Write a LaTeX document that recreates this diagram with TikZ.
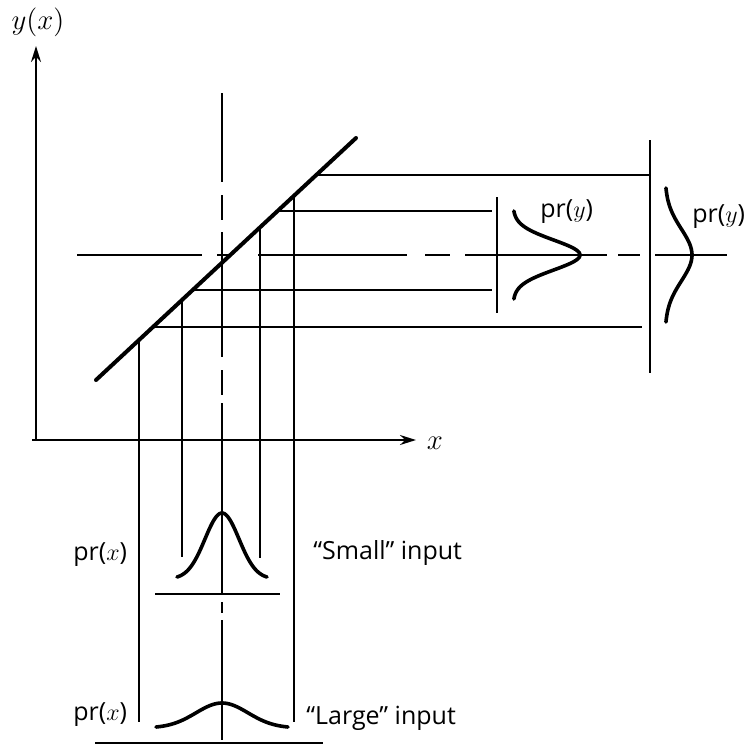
\documentclass[tikz,border=0pt]{standalone}
\usepackage{fontspec}
\setsansfont{Open Sans}
\usetikzlibrary{arrows.meta}

\begin{document}
\begin{tikzpicture}[x=0.5pt,y=-0.5pt,
  ray/.style={black, line width=0.9pt},
  axis/.style={black, line width=1pt, -{Stealth[length=8pt,width=5pt]}},
  curve/.style={black, line width=1.8pt, line cap=round},
  lab/.style={font=\sffamily\fontsize{12.5}{15}\selectfont, inner sep=0pt, anchor=west},
  mlab/.style={font=\fontsize{14}{16}\selectfont, inner sep=0pt}]
\useasboundingbox (0,0) rectangle (752,752);
\coordinate (o) at (36,440);
\coordinate (d0) at (96,380);
\coordinate (d1) at (356,138);
\draw[axis] (32,440) -- (416,440);
\draw[axis] (o) -- (36,46);
\node[mlab] (ylab) at (38,22) {$y(x)$};
\node[mlab] (xlab) at (435,443) {$x$};
\draw[black, line width=2pt, line cap=round] (d0) -- (d1);
\draw[ray] (316.4,175) -- (650,175);
\draw[ray] (277.7,211) -- (492,211);
\draw[ray] (192.7,290) -- (492,290);
\draw[ray] (153,327) -- (642,327);
\draw[ray] (77,255) -- (202,255) (217,255) -- (232,255) (258,255) -- (407,255)
  (425,255) -- (450,255) (465,255) -- (607,255) (618,255) -- (640,255) (655,255) -- (727,255);
\draw[ray] (139,340) -- (139,722);
\draw[ray] (182,300) -- (182,557);
\draw[ray] (260,227.4) -- (260,558);
\draw[ray] (294,195.8) -- (294,722);
\draw[ray] (222,93) -- (222,182) (222,195) -- (222,220) (222,232) -- (222,357)
  (222,370) -- (222,395) (222,403) -- (222,593) (222,602) -- (222,613) (222,620) -- (222,740);
\draw[ray] (497,197) -- (497,313);
\draw[ray] (650,140) -- (650,373);
\draw[curve] plot[domain=-44:44, samples=60, smooth] ({513+67*exp(-\x*\x/450)}, {255+\x});
\draw[curve] plot[domain=-67:67, samples=60, smooth] ({665+27*exp(-\x*\x/1352)}, {255+\x});
\node[lab] (prys) at (540,212) {pr($y$)};
\node[lab] (pryl) at (692,217) {pr($y$)};
\draw[curve] plot[domain=-45:45, samples=60, smooth] ({222+\x}, {579-66*exp(-\x*\x/578)});
\draw[ray] (155,594) -- (280,594);
\node[lab] (prxs) at (73,555) {pr($x$)};
\node[lab] (small) at (313,553) {``Small'' input};
\draw[curve] plot[domain=-66:66, samples=60, smooth] ({222+\x}, {728-25*exp(-\x*\x/1352)});
\draw[ray] (95,743) -- (323,743);
\node[lab] (prxl) at (73,715) {pr($x$)};
\node[lab] (large) at (306,718) {``Large'' input};
\end{tikzpicture}
\end{document}
